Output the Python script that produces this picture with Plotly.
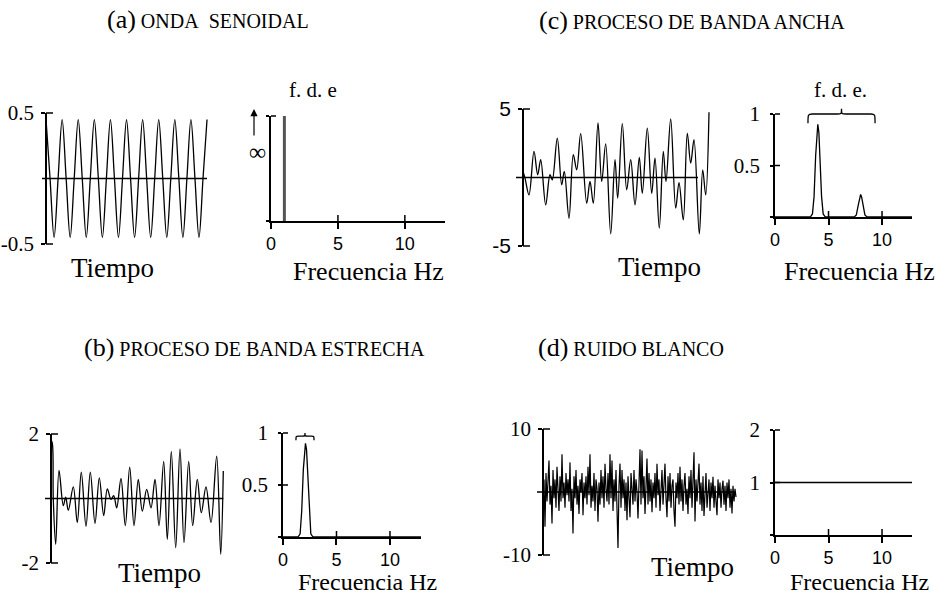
import plotly.graph_objects as go

# ---------------- data ----------------
# (a) sine wave: time [s], amplitude
sine_t = [0, 0.25, 0.5, 0.75, 1.0, 1.25, 1.5, 1.75, 2.0, 2.25, 2.5, 2.75, 3.0, 3.25,
          3.5, 3.75, 4.0, 4.25, 4.5, 4.75, 5.0, 5.25, 5.5, 5.75, 6.0, 6.25, 6.5, 6.75,
          7.0, 7.25, 7.5, 7.75, 8.0, 8.25, 8.5, 8.75, 9.0, 9.25, 9.5, 9.75, 10.0]
sine_v = [0.45, 0, -0.45, 0, 0.45, 0, -0.45, 0, 0.45, 0, -0.45, 0, 0.45, 0,
          -0.45, 0, 0.45, 0, -0.45, 0, 0.45, 0, -0.45, 0, 0.45, 0, -0.45, 0,
          0.45, 0, -0.45, 0, 0.45, 0, -0.45, 0, 0.45, 0, -0.45, 0, 0.45]
sine_zero_t = [-0.25, 10.0]
sine_psd_f = [1.0, 1.0]
sine_psd_v = [0.0, 1.0]

# (c) wide band process
wide_t = [0, 2, 6, 11, 14.7, 17.7, 22.7, 27, 29.3, 34.3, 38.7, 41.3, 46, 50.3, 53.7,
          57.7, 63.7, 67, 70.3, 75, 78.7, 82.7, 87.7, 92, 94.7, 99.3, 103.7, 107.7,
          112, 116.3, 119.3, 124.3, 128.7, 132, 136.3, 140.3, 143, 147.7, 152.7, 156,
          160.3, 164.3, 167.7, 171, 176.3, 179.7, 182.7, 186]
wide_v = [0.44, -0.05, -1.27, 1.9, 0.2, 1.3, -2.0, 0.2, -0.17, 2.88, -0.54, 0.44,
          -2.98, 1.66, 0.56, 3.2, -1.88, -0.29, -1.88, 3.98, -0.29, 2.46, -4.12,
          1.3, -1.5, 3.93, -0.9, 1.3, -2.0, 1.46, -1.15, 3.6, -1.15, 1.41, -3.7,
          1.9, -0.29, 4.27, -2.24, -0.37, -3.1, 3.24, 1.05, 2.76, -4.12, 0.56,
          -1.27, 4.76]
wide_zero_t = [-7, 175]
wide_psd_f = [0, 3.3, 3.5, 3.65, 3.8, 3.9, 4.0, 4.1, 4.2, 4.35, 4.5, 4.7,
              7.4, 7.6, 7.75, 7.9, 8.0, 8.1, 8.25, 8.4, 8.6, 12.8]
wide_psd_v = [0, 0, 0.03, 0.2, 0.6, 0.82, 0.9, 0.82, 0.6, 0.2, 0.03, 0,
              0, 0.02, 0.1, 0.19, 0.22, 0.19, 0.1, 0.02, 0, 0]

# (b) narrow band process
narrow_t = [0, 1.3, 2.3, 4.7, 8, 12.3, 14.7, 17.3, 22.3, 26.3, 30.3, 35, 39.3, 44,
            48.3, 52.7, 56.3, 60, 62.7, 65.7, 70, 74.3, 78.7, 83, 87.3, 91.3, 95.7,
            100, 104, 108, 112.7, 116.3, 120.3, 124.7, 129, 133, 137.7, 141.7,
            146.3, 150.3, 155, 160, 165.7, 169.7, 172.3]
narrow_v = [1.82, 1.72, -0.03, -1.42, 0.87, -0.22, 0.04, -0.37, 0.36, -0.75, 0.82,
            -0.86, 0.82, -0.77, 0.64, -0.53, 0.30, -0.03, 0.09, -0.29, 0.62, -0.84,
            0.97, -0.84, 0.59, -0.39, 0.28, -0.29, 0.59, -0.84, 1.15, -1.27, 1.46,
            -1.53, 1.54, -1.37, 1.15, -0.84, 0.59, -0.44, 0.36, -0.75, 1.31, -1.73,
            0.85]
narrow_zero_t = [-6, 172.3]
narrow_psd_f = [0, 1.4, 1.6, 1.75, 1.9, 2.0, 2.1, 2.2, 2.3, 2.45, 2.6, 2.8, 12.9]
narrow_psd_v = [0, 0, 0.03, 0.25, 0.65, 0.84, 0.9, 0.84, 0.65, 0.25, 0.03, 0, 0]

# (d) white noise (one value per sample)
noise_v = [0.5, 2.0, -5.5, 3.0, -1.5, 2.5, 5.0, -2.0, 1.0, -5.0,
           3.5, -1.0, 2.0, -2.5, 4.0, 0.5, -3.0, 2.5, -1.5, 6.0,
           -1.0, 1.5, -2.5, 3.0, -0.5, 2.0, -1.5, 4.7, -3.0, 0.5,
           -6.6, 2.5, -1.0, 3.5, -2.0, 1.0, -3.5, 2.0, 0.0, 3.0,
           -3.7, 1.5, -1.0, 2.5, -2.0, 4.0, -0.5, 6.0, -2.5, 1.0,
           -1.5, 3.0, -3.0, 2.0, 0.5, -4.7, 1.5, -2.0, 3.5, -1.0,
           2.5, -2.5, 4.5, 0.5, -1.5, 3.0, -2.0, 6.0, -1.0, 5.0,
           -3.0, 2.0, -1.5, 3.5, -4.0, -8.9, 1.0, 4.5, -2.5, 3.5,
           -1.0, 2.0, -3.0, 1.5, -4.5, 2.5, -1.0, -4.0, 3.0, 0.5,
           -2.0, 3.5, -1.5, 2.0, 0.0, -4.2, 3.0, 6.8, -2.0, 6.6,
           -1.0, 2.5, -3.5, 1.0, 5.3, -2.0, 3.0, -1.5, 2.0, -3.2,
           1.5, -1.0, 3.0, -2.5, 4.5, -0.5, 2.0, -3.0, 1.0, 3.5,
           -2.0, 1.5, 4.5, -1.0, -4.0, 2.5, -1.5, 3.0, -2.5, 1.0,
           2.0, -3.0, -5.5, 1.5, -1.0, 3.0, -2.0, 4.0, -1.5, 2.0,
           -3.0, 1.0, 3.0, -2.0, 0.5, -3.5, 2.5, -1.0, 3.5, -2.5,
           1.0, 6.3, -4.7, 2.0, -1.5, 3.0, 4.5, -2.0, 1.5, -3.0,
           2.5, -3.8, 1.0, 3.0, -2.5, 0.5, 2.0, -3.0, 1.5, -1.0,
           2.4, -2.5, 1.0, -1.5, -3.7, 2.0, -1.0, 1.5, -2.5, 0.5,
           1.8, -2.0, 1.0, -3.0, 1.5, -1.0, 2.0, -2.5, 0.5, -3.4,
           1.0, -1.5, 0.5, -0.8]
noise_t = list(range(len(noise_v)))
noise_zero_t = [-6, 192]
noise_psd_f = [0, 12.8]
noise_psd_v = [1, 1]

# tick labels
freq_ticks = [0, 5, 10]
freq_ticktext = ["0", "5", "10"]

# ---------------- layout helpers ----------------
W, H = 948, 596
SERIF = "Liberation Serif, Times New Roman, serif"
SANS = "Liberation Sans, Arial, sans-serif"
BLACK = "black"
TICKW = 1.5


def fx(x):
    return x / W


def fy(y):
    return 1 - y / H


def xid(n):
    return "x" if n == 1 else f"x{n}"


def yid(n):
    return "y" if n == 1 else f"y{n}"


fig = go.Figure()
layout = dict(width=W, height=H, autosize=False,
              margin=dict(l=0, r=0, t=0, b=0, pad=0),
              paper_bgcolor="white", plot_bgcolor="white",
              showlegend=False, hovermode=False, template="none")
shapes = []
annotations = []


def line_trace(x, y, n, shape="linear", width=1.3, color=BLACK):
    fig.add_trace(go.Scatter(x=x, y=y, mode="lines", xaxis=xid(n), yaxis=yid(n),
                             line=dict(color=color, width=width, shape=shape,
                                       smoothing=1.0),
                             hoverinfo="skip"))


def seg(xref, yref, x0, y0, x1, y1):
    shapes.append(dict(type="line", xref=xref, yref=yref, x0=x0, y0=y0, x1=x1, y1=y1,
                       line=dict(color=BLACK, width=TICKW)))


def time_panel(n, xdom, xrng, ydom, yrng, ypos, tv, tt, tfont):
    layout[f"xaxis{n}"] = dict(domain=[fx(xdom[0]), fx(xdom[1])], range=xrng,
                               visible=False, anchor=yid(n), fixedrange=True)
    layout[f"yaxis{n}"] = dict(domain=[fy(ydom[0]), fy(ydom[1])], range=yrng,
                               anchor="free", position=fx(ypos), tickvals=tv,
                               ticktext=tt, showgrid=False, zeroline=False,
                               showline=True, linecolor=BLACK, linewidth=1.5,
                               ticks="outside", ticklen=4, tickcolor=BLACK,
                               tickwidth=TICKW,
                               tickfont=dict(family=tfont, size=21, color=BLACK),
                               ticklabelstandoff=3, fixedrange=True)
    # the part of each tick that crosses to the inside of the axis
    for v in tv:
        f = (v - yrng[0]) / (yrng[1] - yrng[0])
        seg("paper", f"{yid(n)} domain", fx(ypos), f, fx(ypos + 7), f)


def psd_panel(n, xdom, xrng, ydom, yrng, tv, tt):
    layout[f"xaxis{n}"] = dict(domain=[fx(xdom[0]), fx(xdom[1])], range=xrng,
                               anchor=yid(n), tickvals=freq_ticks,
                               ticktext=freq_ticktext, showgrid=False, zeroline=False,
                               showline=True, linecolor=BLACK, linewidth=1.5,
                               ticks="outside", ticklen=6, tickcolor=BLACK,
                               tickwidth=TICKW,
                               tickfont=dict(family=SANS, size=18, color=BLACK),
                               ticklabelstandoff=0, fixedrange=True)
    layout[f"yaxis{n}"] = dict(domain=[fy(ydom[0]), fy(ydom[1])], range=yrng,
                               anchor=xid(n), tickvals=tv, ticktext=tt,
                               showgrid=False, zeroline=False,
                               showline=True, linecolor=BLACK, linewidth=1.5,
                               ticks="outside", ticklen=3, tickcolor=BLACK,
                               tickwidth=TICKW,
                               tickfont=dict(family=SERIF, size=21, color=BLACK),
                               ticklabelstandoff=6, fixedrange=True)
    hpx = ydom[0] - ydom[1]
    wpx = xdom[1] - xdom[0]
    for v in freq_ticks[1:]:
        f = (v - xrng[0]) / (xrng[1] - xrng[0])
        seg(f"{xid(n)} domain", f"{yid(n)} domain", f, 0, f, 6 / hpx)
    for v in tv[1:]:
        f = (v - yrng[0]) / (yrng[1] - yrng[0])
        seg(f"{xid(n)} domain", f"{yid(n)} domain", 0, f, 5 / wpx, f)


def brace(n, x0, x1, yb, yf, yt, xr, yr, d):
    def p(x, y):
        return f"{x / xr:.4f},{y / yr:.4f}"
    xm = (x0 + x1) / 2
    path = (f"M{p(x0, yb)} C{p(x0, yf)} {p(x0, yf)} {p(x0 + d, yf)} "
            f"L{p(xm - d, yf)} C{p(xm, yf)} {p(xm, yf)} {p(xm, yt)} "
            f"C{p(xm, yf)} {p(xm, yf)} {p(xm + d, yf)} "
            f"L{p(x1 - d, yf)} C{p(x1, yf)} {p(x1, yf)} {p(x1, yb)}")
    shapes.append(dict(type="path", path=path, xref=f"{xid(n)} domain",
                       yref=f"{yid(n)} domain", line=dict(color=BLACK, width=1.3)))


def text(x, y, s, size, family=SERIF, xanchor="center", yanchor="middle"):
    annotations.append(dict(x=fx(x), y=fy(y), xref="paper", yref="paper", text=s,
                            showarrow=False, xanchor=xanchor, yanchor=yanchor,
                            borderpad=0,
                            font=dict(family=family, size=size, color=BLACK)))


# ---------------- panels ----------------
# (a)
time_panel(1, (42, 208), [-0.25, 10.06], (244, 113), [-0.5, 0.5], 46,
           [-0.5, 0.5], ["-0.5", "0.5"], SERIF)
line_trace(sine_zero_t, [0, 0], 1, width=1.5)
line_trace(sine_t, sine_v, 1, shape="spline")
psd_panel(2, (271, 445), [0, 13], (221, 116), [0, 1], [0, 1], ["", ""])
line_trace(sine_psd_f, sine_psd_v, 2, width=3, color="#555555")

# (c)
time_panel(3, (516, 710), [-7, 187], (246, 109), [-5, 5], 523,
           [-5, 5], ["-5", "5"], SANS)
line_trace(wide_zero_t, [0, 0], 3, width=1.5)
line_trace(wide_t, wide_v, 3, shape="spline")
psd_panel(4, (775, 912), [0, 12.8], (217, 114), [0, 1], [0, 0.5, 1], ["", "0.5", "1"])
line_trace(wide_psd_f, wide_psd_v, 4)
brace(4, 3.08, 9.35, 0.91, 1.0, 1.05, 12.8, 1.0, 0.4)

# (b)
time_panel(5, (45, 224), [-6, 173], (563, 434), [-2, 2], 51,
           [-2, 2], ["-2", "2"], SERIF)
line_trace(narrow_zero_t, [0, 0], 5, width=1.5)
line_trace(narrow_t, narrow_v, 5, shape="spline")
psd_panel(6, (283, 421), [0, 12.9], (537, 433), [0, 1], [0, 0.5, 1], ["", "0.5", "1"])
line_trace(narrow_psd_f, narrow_psd_v, 6)
brace(6, 1.21, 2.9, 0.93, 0.97, 1.0, 12.9, 1.0, 0.25)

# (d)
time_panel(7, (537, 737), [-6, 194], (555, 429), [-10, 10], 543,
           [-10, 10], ["-10", "10"], SERIF)
line_trace(noise_zero_t, [0, 0], 7, width=1.5)
line_trace(noise_t, noise_v, 7, width=1.2)
psd_panel(8, (775, 912), [0, 12.8], (535, 430), [0, 2], [0, 1, 2], ["", "1", "2"])
line_trace(noise_psd_f, noise_psd_v, 8)

# ---------------- texts ----------------
SC = 20
P = "<span style='font-size:26px'>({})</span> "
text(208, 20, P.format("a") + "ONDA\u00a0 SENOIDAL", SC)
text(692, 21, P.format("c") + "PROCESO DE BANDA ANCHA", SC)
text(254, 347, P.format("b") + "PROCESO DE BANDA ESTRECHA", SC)
text(631, 347, P.format("d") + "RUIDO BLANCO", SC)

text(313, 90, "f. d. e", 21)
text(840, 90, "f. d. e.", 21)

text(112, 268, "Tiempo", 27)
text(368, 271, "Frecuencia Hz", 26)
text(659, 267, "Tiempo", 27)
text(859, 271, "Frecuencia Hz", 26)
text(159, 573, "Tiempo", 27)
text(367, 596, "Frecuencia Hz", 24, yanchor="bottom")
text(692, 567, "Tiempo", 27)
text(859, 596, "Frecuencia Hz", 24, yanchor="bottom")

# infinity mark with arrow
text(257, 152, "\u221e", 24)
annotations.append(dict(x=fx(254), y=fy(109), xref="paper", yref="paper", text="",
                        showarrow=True, ax=0, ay=28, arrowhead=2, arrowsize=1.2,
                        arrowwidth=1.2, arrowcolor=BLACK))

layout["shapes"] = shapes
layout["annotations"] = annotations
fig.update_layout(**layout)
fig.write_html("out.html", config={"displayModeBar": False},
               post_script="document.body.style.margin='0';")
